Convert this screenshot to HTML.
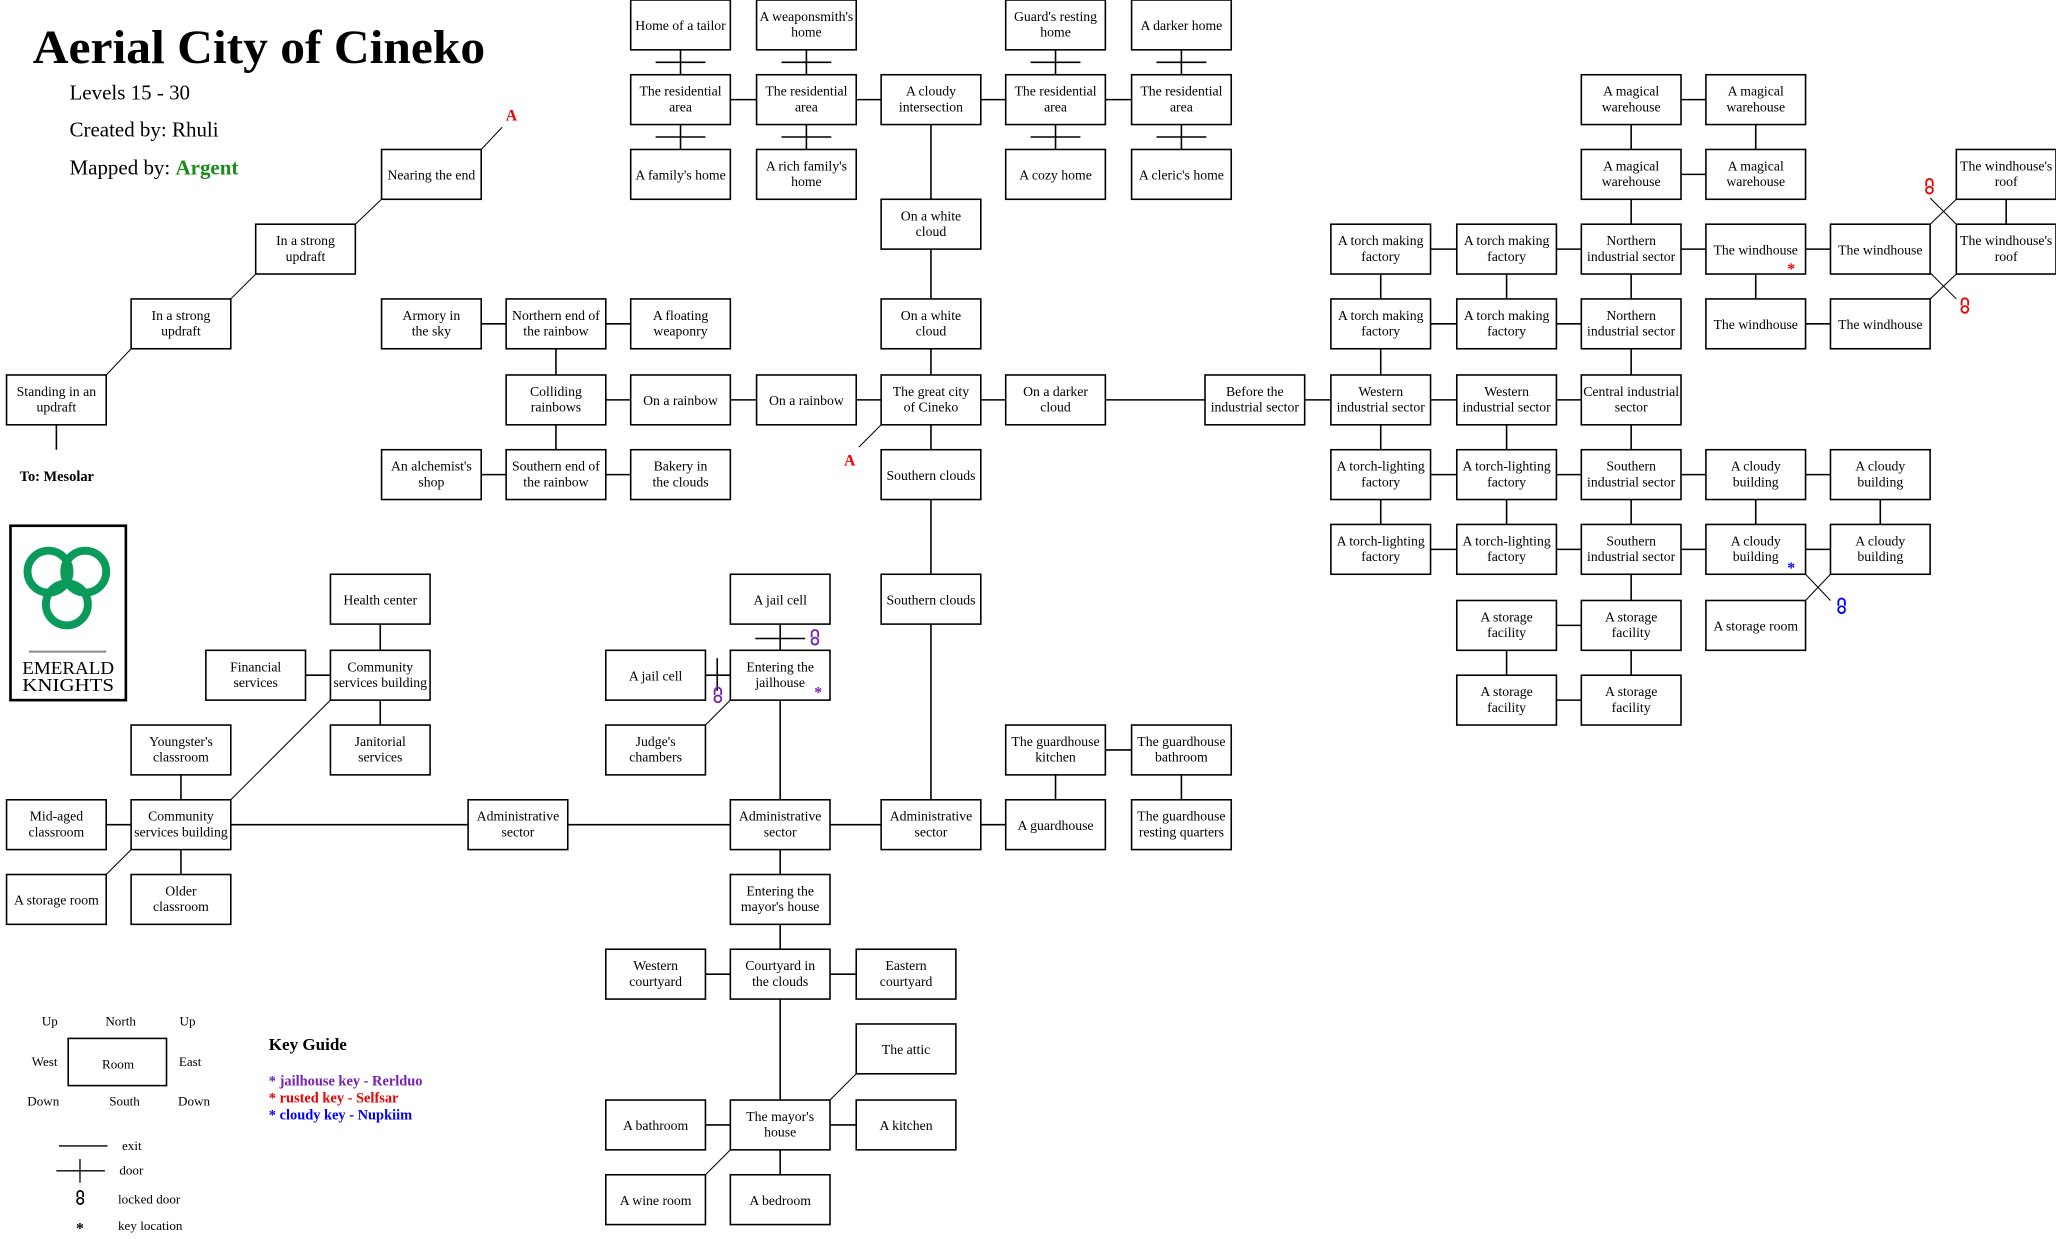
<!DOCTYPE html>
<html><head><meta charset="utf-8"><style>
html,body{margin:0;padding:0;background:#fff;}
svg{display:block;}
.b rect{fill:#fff;stroke:#000;stroke-width:1.2;}
.b text{font-family:"Liberation Serif",serif;font-size:10.5px;text-anchor:middle;fill:#000;}
.l line{stroke:#000;stroke-width:1.2;}
.d line{stroke:#000;stroke-width:0.8;}
text{font-family:"Liberation Serif",serif;}
</style></head><body>
<svg width="2056" height="1239" viewBox="0 0 1568 945" preserveAspectRatio="none" xmlns="http://www.w3.org/2000/svg">
<rect width="1568" height="945" fill="#fff"/>
<g class="l">
<line x1="519" y1="19" x2="519" y2="133"/><line x1="615" y1="19" x2="615" y2="133"/>
<line x1="805" y1="19" x2="805" y2="133"/><line x1="901" y1="19" x2="901" y2="133"/>
<line x1="500" y1="47.5" x2="538" y2="47.5"/><line x1="500" y1="104.5" x2="538" y2="104.5"/>
<line x1="596" y1="47.5" x2="634" y2="47.5"/><line x1="596" y1="104.5" x2="634" y2="104.5"/>
<line x1="786" y1="47.5" x2="824" y2="47.5"/><line x1="786" y1="104.5" x2="824" y2="104.5"/>
<line x1="882" y1="47.5" x2="920" y2="47.5"/><line x1="882" y1="104.5" x2="920" y2="104.5"/>
<line x1="519" y1="76" x2="901" y2="76"/>
<line x1="710" y1="76" x2="710" y2="629"/>
<line x1="424" y1="305" x2="710" y2="305"/>
<line x1="424" y1="247" x2="424" y2="362"/>
<line x1="329" y1="247" x2="519" y2="247"/>
<line x1="329" y1="362" x2="519" y2="362"/>
<line x1="710" y1="305" x2="1244" y2="305"/>
<line x1="43" y1="305" x2="43" y2="343"/>
<line x1="1053" y1="190" x2="1244" y2="190"/><line x1="1053" y1="247" x2="1244" y2="247"/>
<line x1="1053" y1="190" x2="1053" y2="419"/><line x1="1149" y1="190" x2="1149" y2="247"/>
<line x1="1149" y1="305" x2="1149" y2="419"/>
<line x1="1244" y1="76" x2="1244" y2="534"/>
<line x1="1244" y1="76" x2="1339" y2="76"/><line x1="1244" y1="133" x2="1339" y2="133"/>
<line x1="1339" y1="76" x2="1339" y2="133"/>
<line x1="1244" y1="190" x2="1434" y2="190"/><line x1="1339" y1="247" x2="1434" y2="247"/>
<line x1="1339" y1="190" x2="1339" y2="247"/>
<line x1="1530" y1="133" x2="1530" y2="190"/>
<line x1="1053" y1="362" x2="1434" y2="362"/><line x1="1053" y1="419" x2="1434" y2="419"/>
<line x1="1339" y1="362" x2="1339" y2="419"/><line x1="1434" y1="362" x2="1434" y2="419"/>
<line x1="1149" y1="477" x2="1244" y2="477"/><line x1="1149" y1="534" x2="1244" y2="534"/>
<line x1="1149" y1="477" x2="1149" y2="534"/>
<line x1="595" y1="457" x2="595" y2="858"/>
<line x1="576" y1="487" x2="614" y2="487"/>
<line x1="500" y1="515" x2="595" y2="515"/>
<line x1="547" y1="502" x2="547" y2="527"/>
<line x1="138" y1="629" x2="805" y2="629"/>
<line x1="805" y1="572" x2="805" y2="629"/>
<line x1="805" y1="572" x2="901" y2="572"/>
<line x1="901" y1="572" x2="901" y2="629"/>
<line x1="290" y1="457" x2="290" y2="572"/>
<line x1="195" y1="515" x2="290" y2="515"/>
<line x1="138" y1="572" x2="138" y2="686"/>
<line x1="43" y1="629" x2="138" y2="629"/>
<line x1="500" y1="743" x2="691" y2="743"/>
<line x1="595" y1="858" x2="595" y2="915"/>
<line x1="500" y1="858" x2="691" y2="858"/>
</g>
<g class="d">
<line x1="81" y1="286" x2="100" y2="266"/>
<line x1="176" y1="228" x2="195" y2="209"/>
<line x1="271" y1="171" x2="291" y2="152"/>
<line x1="367" y1="114" x2="383" y2="97"/>
<line x1="672" y1="324" x2="655" y2="341"/>
<line x1="252" y1="534" x2="176" y2="610"/>
<line x1="100" y1="648" x2="81" y2="667"/>
<line x1="557" y1="534" x2="538" y2="553"/>
<line x1="633" y1="839" x2="653" y2="819"/>
<line x1="557" y1="877" x2="538" y2="896"/>
<line x1="1472" y1="171" x2="1492" y2="152"/>
<line x1="1472" y1="151" x2="1492" y2="171"/>
<line x1="1472" y1="228" x2="1492" y2="209"/>
<line x1="1472" y1="208" x2="1492" y2="228"/>
<line x1="1396" y1="438" x2="1377" y2="458"/>
<line x1="1377" y1="438" x2="1396" y2="458"/>
</g>
<g class="b">
<rect x="481" y="0" width="76" height="38"/><text x="519" y="23">Home of a tailor</text>
<rect x="577" y="0" width="76" height="38"/><text x="615" y="16">A weaponsmith's</text><text x="615" y="28">home</text>
<rect x="767" y="0" width="76" height="38"/><text x="805" y="16">Guard's resting</text><text x="805" y="28">home</text>
<rect x="863" y="0" width="76" height="38"/><text x="901" y="23">A darker home</text>
<rect x="481" y="57" width="76" height="38"/><text x="519" y="73">The residential</text><text x="519" y="85">area</text>
<rect x="577" y="57" width="76" height="38"/><text x="615" y="73">The residential</text><text x="615" y="85">area</text>
<rect x="672" y="57" width="76" height="38"/><text x="710" y="73">A cloudy</text><text x="710" y="85">intersection</text>
<rect x="767" y="57" width="76" height="38"/><text x="805" y="73">The residential</text><text x="805" y="85">area</text>
<rect x="863" y="57" width="76" height="38"/><text x="901" y="73">The residential</text><text x="901" y="85">area</text>
<rect x="481" y="114" width="76" height="38"/><text x="519" y="137">A family's home</text>
<rect x="577" y="114" width="76" height="38"/><text x="615" y="130">A rich family's</text><text x="615" y="142">home</text>
<rect x="767" y="114" width="76" height="38"/><text x="805" y="137">A cozy home</text>
<rect x="863" y="114" width="76" height="38"/><text x="901" y="137">A cleric's home</text>
<rect x="291" y="114" width="76" height="38"/><text x="329" y="137">Nearing the end</text>
<rect x="672" y="152" width="76" height="38"/><text x="710" y="168">On a white</text><text x="710" y="180">cloud</text>
<rect x="195" y="171" width="76" height="38"/><text x="233" y="187">In a strong</text><text x="233" y="199">updraft</text>
<rect x="100" y="228" width="76" height="38"/><text x="138" y="244">In a strong</text><text x="138" y="256">updraft</text>
<rect x="291" y="228" width="76" height="38"/><text x="329" y="244">Armory in</text><text x="329" y="256">the sky</text>
<rect x="386" y="228" width="76" height="38"/><text x="424" y="244">Northern end of</text><text x="424" y="256">the rainbow</text>
<rect x="481" y="228" width="76" height="38"/><text x="519" y="244">A floating</text><text x="519" y="256">weaponry</text>
<rect x="672" y="228" width="76" height="38"/><text x="710" y="244">On a white</text><text x="710" y="256">cloud</text>
<rect x="5" y="286" width="76" height="38"/><text x="43" y="302">Standing in an</text><text x="43" y="314">updraft</text>
<rect x="386" y="286" width="76" height="38"/><text x="424" y="302">Colliding</text><text x="424" y="314">rainbows</text>
<rect x="481" y="286" width="76" height="38"/><text x="519" y="309">On a rainbow</text>
<rect x="577" y="286" width="76" height="38"/><text x="615" y="309">On a rainbow</text>
<rect x="672" y="286" width="76" height="38"/><text x="710" y="302">The great city</text><text x="710" y="314">of Cineko</text>
<rect x="767" y="286" width="76" height="38"/><text x="805" y="302">On a darker</text><text x="805" y="314">cloud</text>
<rect x="919" y="286" width="76" height="38"/><text x="957" y="302">Before the</text><text x="957" y="314">industrial sector</text>
<rect x="291" y="343" width="76" height="38"/><text x="329" y="359">An alchemist's</text><text x="329" y="371">shop</text>
<rect x="386" y="343" width="76" height="38"/><text x="424" y="359">Southern end of</text><text x="424" y="371">the rainbow</text>
<rect x="481" y="343" width="76" height="38"/><text x="519" y="359">Bakery in</text><text x="519" y="371">the clouds</text>
<rect x="672" y="343" width="76" height="38"/><text x="710" y="366">Southern clouds</text>
<rect x="672" y="438" width="76" height="38"/><text x="710" y="461">Southern clouds</text>
<rect x="1206" y="57" width="76" height="38"/><text x="1244" y="73">A magical</text><text x="1244" y="85">warehouse</text>
<rect x="1301" y="57" width="76" height="38"/><text x="1339" y="73">A magical</text><text x="1339" y="85">warehouse</text>
<rect x="1206" y="114" width="76" height="38"/><text x="1244" y="130">A magical</text><text x="1244" y="142">warehouse</text>
<rect x="1301" y="114" width="76" height="38"/><text x="1339" y="130">A magical</text><text x="1339" y="142">warehouse</text>
<rect x="1492" y="114" width="76" height="38"/><text x="1530" y="130">The windhouse's</text><text x="1530" y="142">roof</text>
<rect x="1492" y="171" width="76" height="38"/><text x="1530" y="187">The windhouse's</text><text x="1530" y="199">roof</text>
<rect x="1015" y="171" width="76" height="38"/><text x="1053" y="187">A torch making</text><text x="1053" y="199">factory</text>
<rect x="1111" y="171" width="76" height="38"/><text x="1149" y="187">A torch making</text><text x="1149" y="199">factory</text>
<rect x="1206" y="171" width="76" height="38"/><text x="1244" y="187">Northern</text><text x="1244" y="199">industrial sector</text>
<rect x="1301" y="171" width="76" height="38"/><text x="1339" y="194">The windhouse</text>
<rect x="1396" y="171" width="76" height="38"/><text x="1434" y="194">The windhouse</text>
<rect x="1015" y="228" width="76" height="38"/><text x="1053" y="244">A torch making</text><text x="1053" y="256">factory</text>
<rect x="1111" y="228" width="76" height="38"/><text x="1149" y="244">A torch making</text><text x="1149" y="256">factory</text>
<rect x="1206" y="228" width="76" height="38"/><text x="1244" y="244">Northern</text><text x="1244" y="256">industrial sector</text>
<rect x="1301" y="228" width="76" height="38"/><text x="1339" y="251">The windhouse</text>
<rect x="1396" y="228" width="76" height="38"/><text x="1434" y="251">The windhouse</text>
<rect x="1015" y="286" width="76" height="38"/><text x="1053" y="302">Western</text><text x="1053" y="314">industrial sector</text>
<rect x="1111" y="286" width="76" height="38"/><text x="1149" y="302">Western</text><text x="1149" y="314">industrial sector</text>
<rect x="1206" y="286" width="76" height="38"/><text x="1244" y="302">Central industrial</text><text x="1244" y="314">sector</text>
<rect x="1015" y="343" width="76" height="38"/><text x="1053" y="359">A torch-lighting</text><text x="1053" y="371">factory</text>
<rect x="1111" y="343" width="76" height="38"/><text x="1149" y="359">A torch-lighting</text><text x="1149" y="371">factory</text>
<rect x="1206" y="343" width="76" height="38"/><text x="1244" y="359">Southern</text><text x="1244" y="371">industrial sector</text>
<rect x="1301" y="343" width="76" height="38"/><text x="1339" y="359">A cloudy</text><text x="1339" y="371">building</text>
<rect x="1396" y="343" width="76" height="38"/><text x="1434" y="359">A cloudy</text><text x="1434" y="371">building</text>
<rect x="1015" y="400" width="76" height="38"/><text x="1053" y="416">A torch-lighting</text><text x="1053" y="428">factory</text>
<rect x="1111" y="400" width="76" height="38"/><text x="1149" y="416">A torch-lighting</text><text x="1149" y="428">factory</text>
<rect x="1206" y="400" width="76" height="38"/><text x="1244" y="416">Southern</text><text x="1244" y="428">industrial sector</text>
<rect x="1301" y="400" width="76" height="38"/><text x="1339" y="416">A cloudy</text><text x="1339" y="428">building</text>
<rect x="1396" y="400" width="76" height="38"/><text x="1434" y="416">A cloudy</text><text x="1434" y="428">building</text>
<rect x="1301" y="458" width="76" height="38"/><text x="1339" y="481">A storage room</text>
<rect x="1111" y="458" width="76" height="38"/><text x="1149" y="474">A storage</text><text x="1149" y="486">facility</text>
<rect x="1206" y="458" width="76" height="38"/><text x="1244" y="474">A storage</text><text x="1244" y="486">facility</text>
<rect x="1111" y="515" width="76" height="38"/><text x="1149" y="531">A storage</text><text x="1149" y="543">facility</text>
<rect x="1206" y="515" width="76" height="38"/><text x="1244" y="531">A storage</text><text x="1244" y="543">facility</text>
<rect x="252" y="438" width="76" height="38"/><text x="290" y="461">Health center</text>
<rect x="557" y="438" width="76" height="38"/><text x="595" y="461">A jail cell</text>
<rect x="157" y="496" width="76" height="38"/><text x="195" y="512">Financial</text><text x="195" y="524">services</text>
<rect x="252" y="496" width="76" height="38"/><text x="290" y="512">Community</text><text x="290" y="524">services building</text>
<rect x="462" y="496" width="76" height="38"/><text x="500" y="519">A jail cell</text>
<rect x="557" y="496" width="76" height="38"/><text x="595" y="512">Entering the</text><text x="595" y="524">jailhouse</text>
<rect x="100" y="553" width="76" height="38"/><text x="138" y="569">Youngster's</text><text x="138" y="581">classroom</text>
<rect x="252" y="553" width="76" height="38"/><text x="290" y="569">Janitorial</text><text x="290" y="581">services</text>
<rect x="462" y="553" width="76" height="38"/><text x="500" y="569">Judge's</text><text x="500" y="581">chambers</text>
<rect x="767" y="553" width="76" height="38"/><text x="805" y="569">The guardhouse</text><text x="805" y="581">kitchen</text>
<rect x="863" y="553" width="76" height="38"/><text x="901" y="569">The guardhouse</text><text x="901" y="581">bathroom</text>
<rect x="5" y="610" width="76" height="38"/><text x="43" y="626">Mid-aged</text><text x="43" y="638">classroom</text>
<rect x="100" y="610" width="76" height="38"/><text x="138" y="626">Community</text><text x="138" y="638">services building</text>
<rect x="357" y="610" width="76" height="38"/><text x="395" y="626">Administrative</text><text x="395" y="638">sector</text>
<rect x="557" y="610" width="76" height="38"/><text x="595" y="626">Administrative</text><text x="595" y="638">sector</text>
<rect x="672" y="610" width="76" height="38"/><text x="710" y="626">Administrative</text><text x="710" y="638">sector</text>
<rect x="767" y="610" width="76" height="38"/><text x="805" y="633">A guardhouse</text>
<rect x="863" y="610" width="76" height="38"/><text x="901" y="626">The guardhouse</text><text x="901" y="638">resting quarters</text>
<rect x="5" y="667" width="76" height="38"/><text x="43" y="690">A storage room</text>
<rect x="100" y="667" width="76" height="38"/><text x="138" y="683">Older</text><text x="138" y="695">classroom</text>
<rect x="557" y="667" width="76" height="38"/><text x="595" y="683">Entering the</text><text x="595" y="695">mayor's house</text>
<rect x="462" y="724" width="76" height="38"/><text x="500" y="740">Western</text><text x="500" y="752">courtyard</text>
<rect x="557" y="724" width="76" height="38"/><text x="595" y="740">Courtyard in</text><text x="595" y="752">the clouds</text>
<rect x="653" y="724" width="76" height="38"/><text x="691" y="740">Eastern</text><text x="691" y="752">courtyard</text>
<rect x="653" y="781" width="76" height="38"/><text x="691" y="804">The attic</text>
<rect x="462" y="839" width="76" height="38"/><text x="500" y="862">A bathroom</text>
<rect x="557" y="839" width="76" height="38"/><text x="595" y="855">The mayor's</text><text x="595" y="867">house</text>
<rect x="653" y="839" width="76" height="38"/><text x="691" y="862">A kitchen</text>
<rect x="462" y="896" width="76" height="38"/><text x="500" y="919">A wine room</text>
<rect x="557" y="896" width="76" height="38"/><text x="595" y="919">A bedroom</text>
</g>
<text x="390" y="92" fill="#e00" font-size="12" font-weight="bold" text-anchor="middle">A</text>
<text x="648" y="355" fill="#e00" font-size="12" font-weight="bold" text-anchor="middle">A</text>
<text x="15" y="367" font-size="11" font-weight="bold">To: Mesolar</text>
<g font-size="12" font-weight="bold" text-anchor="middle">
<text x="624" y="532" fill="#7a1fb0">*</text>
<text x="1366" y="209" fill="#e00">*</text>
<text x="1366" y="437" fill="#00f">*</text>
</g>
<g fill="none" stroke-width="1.4">
<g stroke="#7a1fb0"><path d="M619 486 v-3 a2.5 2.5 0 0 1 5 0 v3"/><circle cx="621.5" cy="489" r="2.6"/></g>
<g stroke="#7a1fb0"><path d="M545 530 v-3 a2.5 2.5 0 0 1 5 0 v3"/><circle cx="547.5" cy="533" r="2.6"/></g>
<g stroke="#e00"><path d="M1469 142 v-3 a2.5 2.5 0 0 1 5 0 v3"/><circle cx="1471.5" cy="145" r="2.6"/></g>
<g stroke="#e00"><path d="M1496 233 v-3 a2.5 2.5 0 0 1 5 0 v3"/><circle cx="1498.5" cy="236" r="2.6"/></g>
<g stroke="#00f"><path d="M1402 462 v-3 a2.5 2.5 0 0 1 5 0 v3"/><circle cx="1404.5" cy="465" r="2.6"/></g>
</g>
<text x="25" y="48" font-size="36" font-weight="bold" textLength="345" lengthAdjust="spacingAndGlyphs">Aerial City of Cineko</text>
<text x="53" y="76" font-size="16">Levels 15 - 30</text>
<text x="53" y="104" font-size="16">Created by: Rhuli</text>
<text x="53" y="133" font-size="16">Mapped by: <tspan fill="#1a8c1a" font-weight="bold">Argent</tspan></text>
<rect x="8" y="401" width="88" height="133" fill="#fff" stroke="#000" stroke-width="2"/>
<g fill="none" stroke="#0a9a5a" stroke-width="6">
<circle cx="37" cy="436" r="16"/><circle cx="65" cy="436" r="16"/><circle cx="51" cy="461" r="16"/>
</g>
<line x1="22" y1="497" x2="81" y2="497" stroke="#888" stroke-width="1.5"/>
<text x="52" y="514" font-size="14" text-anchor="middle" textLength="70" lengthAdjust="spacingAndGlyphs">EMERALD</text>
<text x="52" y="527" font-size="14" text-anchor="middle" textLength="70" lengthAdjust="spacingAndGlyphs">KNIGHTS</text>
<g font-size="10" text-anchor="middle">
<text x="38" y="782">Up</text><text x="92" y="782">North</text><text x="143" y="782">Up</text>
<text x="34" y="813">West</text><text x="90" y="815">Room</text><text x="145" y="813">East</text>
<text x="33" y="843">Down</text><text x="95" y="843">South</text><text x="148" y="843">Down</text>
</g>
<rect x="52" y="792" width="75" height="36" fill="none" stroke="#000" stroke-width="1.2"/>
<line x1="45" y1="874" x2="82" y2="874" stroke="#000"/>
<line x1="43" y1="893" x2="80" y2="893" stroke="#000"/>
<line x1="61" y1="884" x2="61" y2="902" stroke="#000"/>
<g fill="none" stroke="#000" stroke-width="1.3"><path d="M59 913 v-2.5 a2.2 2.2 0 0 1 4.4 0 v2.5"/><circle cx="61.2" cy="916" r="2.4"/></g>
<text x="61" y="941" font-size="12" font-weight="bold" text-anchor="middle">*</text>
<g font-size="10">
<text x="93" y="877">exit</text><text x="91" y="896">door</text>
<text x="90" y="918">locked door</text><text x="90" y="938">key location</text>
</g>
<text x="205" y="801" font-size="13" font-weight="bold">Key Guide</text>
<g font-size="11" font-weight="bold">
<text x="205" y="828" fill="#7a1fb0">* jailhouse key - Rerlduo</text>
<text x="205" y="841" fill="#e00">* rusted key - Selfsar</text>
<text x="205" y="854" fill="#00f">* cloudy key - Nupkiim</text>
</g>
</svg>
</body></html>
